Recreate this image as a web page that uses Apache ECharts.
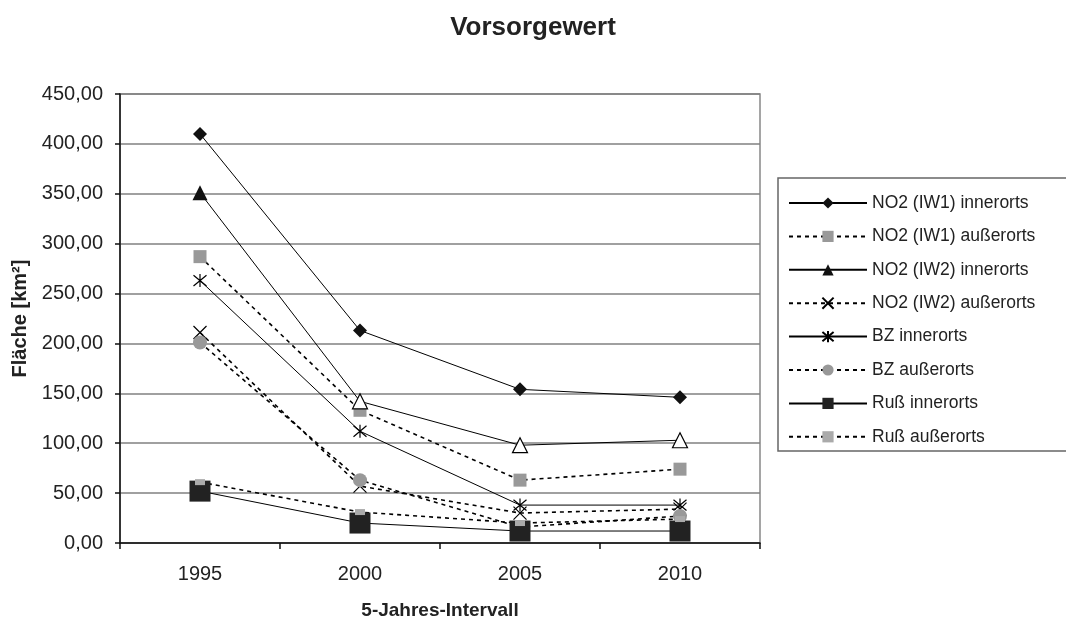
<!DOCTYPE html>
<html>
<head>
<meta charset="utf-8">
<script src="https://cdn.jsdelivr.net/npm/echarts@6/dist/echarts.min.js"></script>
<style>
  html, body { margin: 0; padding: 0; background: #fff; }
  #chart { width: 1066px; height: 619px; }
</style>
</head>
<body>
<div id="chart"></div>
<script>
// data
var years = ['1995', '2000', '2005', '2010'];
var no2iw1Inner = [410, 213, 154, 146];
var no2iw1Outer = [287, 133, 63, 74];
var no2iw2Inner = [351, 142, 98, 103];
var no2iw2Outer = [211, 57, 30, 34];
var bzInner = [263, 112, 38, 38];
var bzOuter = [201, 63, 16, 27];
var russInner = [52, 20, 12, 12];
var russOuter = [61, 31, 20, 24];

var FONT = '"Liberation Sans", Arial, sans-serif';
var crossPath = 'path://M0,0L10,10M10,0L0,10';
var starPath = 'path://M0,0L10,10M10,0L0,10M5,-1L5,11';

function solid(name, data, symbol, size, color) {
    return {
        name: name, type: 'line', data: data,
        symbol: symbol, symbolSize: size,
        lineStyle: { color: '#000', width: 1, type: 'solid' },
        itemStyle: { color: color },
        emphasis: { disabled: true }
    };
}
function dashed(name, data, symbol, size, color) {
    return {
        name: name, type: 'line', data: data,
        symbol: symbol, symbolSize: size,
        lineStyle: { color: '#000', width: 1.6, type: [4, 4] },
        itemStyle: { color: color },
        emphasis: { disabled: true }
    };
}
function strokeOnly(s) {
    s.itemStyle = { color: 'rgba(0,0,0,0)', borderColor: '#000', borderWidth: 1.2 };
    return s;
}

// first triangle filled, the others hollow like in the original
var triData = no2iw2Inner.map(function (v, i) {
    return i === 0 ? v : { value: v, itemStyle: { color: '#fff', borderColor: '#000', borderWidth: 1.2 } };
});

var myChart = echarts.init(document.getElementById('chart'));
var option = {
    backgroundColor: '#fff',
    animation: false,
    title: {
        text: 'Vorsorgewert',
        left: 'center',
        top: 10,
        textStyle: { fontFamily: FONT, fontSize: 26, fontWeight: 'bold', color: '#222' }
    },
    graphic: [{
        type: 'rect',
        shape: { x: 778, y: 178, width: 300, height: 273 },
        style: { fill: 'none', stroke: '#666', lineWidth: 1.5 },
        z: 0
    }],
    legend: {
        orient: 'vertical',
        left: 788,
        top: 194,
        itemWidth: 78,
        itemHeight: 14,
        itemGap: 15.4,
        padding: 0,
        textStyle: { fontFamily: FONT, fontSize: 17.5, lineHeight: 18, color: '#222' },
        data: ['NO2 (IW1) innerorts', 'NO2 (IW1) außerorts', 'NO2 (IW2) innerorts',
               'NO2 (IW2) außerorts', 'BZ innerorts', 'BZ außerorts', 'Ruß innerorts', 'Ruß außerorts']
    },
    grid: {
        left: 120, right: 306, top: 94, bottom: 76,
        outerBoundsMode: 'none',
        containLabel: false,
        show: true, borderColor: '#888', borderWidth: 1.5
    },
    xAxis: {
        type: 'category',
        data: years,
        boundaryGap: true,
        name: '5-Jahres-Intervall',
        nameLocation: 'middle',
        nameGap: 58,
        nameTextStyle: { fontFamily: FONT, fontSize: 19, fontWeight: 'bold', color: '#222' },
        axisLine: { lineStyle: { color: '#111', width: 1.5 } },
        axisTick: { show: true, length: 6, lineStyle: { color: '#111', width: 1.5 } },
        axisLabel: { fontFamily: FONT, fontSize: 20, color: '#222', margin: 21 },
        splitLine: { show: false }
    },
    yAxis: {
        type: 'value',
        min: 0, max: 450, interval: 50,
        name: 'Fläche [km²]',
        nameLocation: 'middle',
        nameGap: 89,
        nameTextStyle: { fontFamily: FONT, fontSize: 20, fontWeight: 'bold', color: '#222' },
        axisLine: { show: true, lineStyle: { color: '#111', width: 1.5 } },
        axisTick: { show: true, length: 5, lineStyle: { color: '#111', width: 1.5 } },
        axisLabel: {
            fontFamily: FONT, fontSize: 20, color: '#222', margin: 17,
            formatter: function (v) { return v.toFixed(2).replace('.', ','); }
        },
        splitLine: { lineStyle: { color: '#808080', width: 1.5 } }
    },
    series: [
        solid('NO2 (IW1) innerorts', no2iw1Inner, 'diamond', 14, '#111'),
        dashed('NO2 (IW1) außerorts', no2iw1Outer, 'rect', 13, '#999'),
        solid('NO2 (IW2) innerorts', triData, 'triangle', 15, '#111'),
        strokeOnly(dashed('NO2 (IW2) außerorts', no2iw2Outer, crossPath, 13, '#000')),
        strokeOnly(solid('BZ innerorts', bzInner, starPath, 13, '#000')),
        dashed('BZ außerorts', bzOuter, 'circle', 14, '#999'),
        solid('Ruß innerorts', russInner, 'rect', 21, '#222'),
        dashed('Ruß außerorts', russOuter, 'rect', [10, 6], '#aaa')
    ]
};
myChart.setOption(option);
</script>
</body>
</html>
